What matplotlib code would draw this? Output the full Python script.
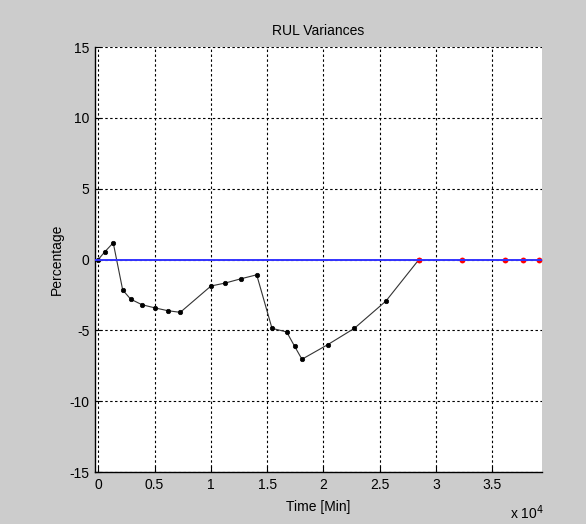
import matplotlib
matplotlib.use("Agg")
import matplotlib.pyplot as plt

# RUL variance (percentage) over time, in minutes
time_min = [0, 600, 1330, 2170, 2880, 3880, 5060, 6160, 7280,
            10010, 11280, 12670, 14070, 15430, 16730, 17440, 18090,
            20400, 22740, 25550, 28480]
variance_pct = [0, 0.56, 1.18, -2.15, -2.8, -3.19, -3.42, -3.61, -3.73,
                -1.87, -1.66, -1.36, -1.08, -4.86, -5.11, -6.13, -7.04,
                -6.0, -4.86, -2.93, 0]

# Future points still sitting on the zero line
future_time = [28480, 32300, 36150, 37690, 39170]
future_pct = [0, 0, 0, 0, 0]

x_ticks = [0, 5000, 10000, 15000, 20000, 25000, 30000, 35000]
x_tick_labels = ["0", "0.5", "1", "1.5", "2", "2.5", "3", "3.5"]
y_ticks = [-15, -10, -5, 0, 5, 10, 15]
y_tick_labels = ["-15", "-10", "-5", "0", "5", "10", "15"]

plt.rcParams["font.family"] = ["Liberation Sans", "DejaVu Sans"]

fig = plt.figure(figsize=(5.86, 5.24), dpi=100, facecolor="#cccccc")
ax = fig.add_axes([0.1621, 0.0992, 0.7623, 0.8111])
ax.set_facecolor("white")

xlim = (-290, 39380)
ax.set_xlim(*xlim)
ax.set_ylim(-15, 15)

ax.plot(time_min, variance_pct, color="#333333", lw=0.8, marker="o",
        markersize=3.2, markerfacecolor="black", markeredgecolor="black",
        markeredgewidth=0.5, zorder=3)
ax.plot(future_time, future_pct, linestyle="none", marker="o",
        markersize=4.2, markeredgewidth=0, color="red", zorder=3)
ax.plot(xlim, [0, 0], color="#3333ff", lw=1.4, zorder=4, clip_on=True)

ax.set_xticks(x_ticks)
ax.set_xticklabels(x_tick_labels)
ax.set_yticks(y_ticks)
ax.set_yticklabels(y_tick_labels)
ax.tick_params(direction="in", length=4, width=0.8, labelsize=10,
               colors="black", pad=4)

ax.grid(True, color="black", linestyle=(0, (2.2, 2.2)), linewidth=0.8)
ax.set_axisbelow(True)

for side in ("top", "right"):
    ax.spines[side].set_visible(False)
for side in ("left", "bottom"):
    ax.spines[side].set_linewidth(1.0)
    ax.spines[side].set_color("black")

ax.set_title("RUL Variances", fontsize=10, pad=9)
ax.set_xlabel("Time [Min]", fontsize=10, labelpad=6)
ax.set_ylabel("Percentage", fontsize=10, labelpad=4)

fig.text(0.870, 0.004, r"x 10$^4$", fontsize=10, ha="left", va="bottom")

fig.savefig("out.png", dpi=100, facecolor=fig.get_facecolor())
